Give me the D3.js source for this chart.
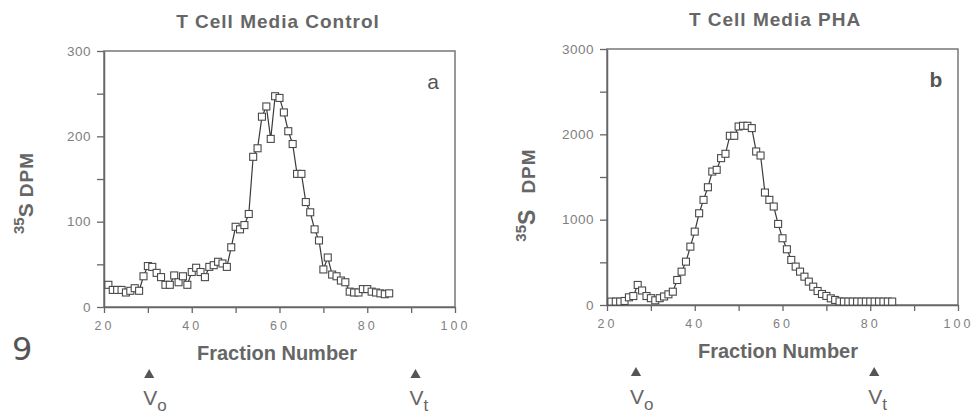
<!DOCTYPE html>
<html>
<head>
<meta charset="utf-8">
<script src="https://cdn.jsdelivr.net/npm/d3@7"></script>
<style>
body { margin: 0; background: #fff; }
svg { display: block; font-family: "Liberation Sans", Arial, sans-serif; }
</style>
</head>
<body>
<div class="canvas"></div>
<script>
// fraction numbers collected off the column
var fractions = [21, 22, 23, 24, 25, 26, 27, 28, 29, 30,
    31, 32, 33, 34, 35, 36, 37, 38, 39, 40,
    41, 42, 43, 44, 45, 46, 47, 48, 49, 50,
    51, 52, 53, 54, 55, 56, 57, 58, 59, 60,
    61, 62, 63, 64, 65, 66, 67, 68, 69, 70,
    71, 72, 73, 74, 75, 76, 77, 78, 79, 80,
    81, 82, 83, 84, 85];

// 35S DPM, panel a (control)
var controlDpm = [26, 20, 20, 20, 17, 19, 22, 19, 36, 48,
    47, 40, 35, 26, 26, 37, 29, 36, 26, 41,
    46, 41, 35, 47, 49, 53, 51, 47, 70, 94,
    91, 96, 109, 176, 186, 223, 235, 197, 247, 245,
    228, 206, 191, 156, 156, 123, 111, 91, 78, 44,
    58, 38, 36, 31, 29, 18, 17, 17, 21, 21,
    18, 17, 16, 15, 16];

// 35S DPM, panel b (PHA)
var phaDpm = [40, 40, 40, 47, 90, 105, 235, 170, 105, 80,
    55, 80, 100, 125, 156, 293, 391, 508, 684, 860,
    1075, 1232, 1380, 1564, 1584, 1721, 1772, 1983, 1983, 2092,
    2100, 2100, 2073, 1799, 1752, 1318, 1232, 1154, 950, 782,
    653, 528, 450, 391, 332, 274, 215, 164, 129, 106,
    78, 59, 42, 40, 40, 40, 40, 40, 40, 40,
    40, 40, 40, 40, 40];

var fractionTicks = [20, 30, 40, 50, 60, 70, 80, 90, 100];
var controlTicks = [0, 50, 100, 150, 200, 250, 300];
var phaTicks = [0, 500, 1000, 1500, 2000, 2500, 3000];

// void / total volume markers
var controlMarkers = [{ sub: 'o', f: 30.3 }, { sub: 't', f: 91 }];
var phaMarkers = [{ sub: 'o', f: 26.6 }, { sub: 't', f: 80.9 }];

var svg = d3.select('.canvas').append('svg')
    .attr('width', 973)
    .attr('height', 414);

var textGray = '#666',
    tickGray = '#808080';

function drawPanel(p) {
    var x = d3.scaleLinear().domain([20, 100]).range([p.left, p.right]),
        y = d3.scaleLinear().domain([0, p.yMax]).range([p.bottom, p.top]);

    var g = svg.append('g');

    // frame
    g.append('rect')
        .attr('x', p.left).attr('y', p.top)
        .attr('width', p.right - p.left).attr('height', p.bottom - p.top)
        .attr('fill', 'none').attr('stroke', '#777').attr('stroke-width', 1.5);

    var xAxis = g.append('g')
        .attr('transform', 'translate(0,' + p.bottom + ')')
        .call(d3.axisBottom(x)
            .tickValues(fractionTicks)
            .tickSize(6)
            .tickSizeOuter(0)
            .tickPadding(8)
            .tickFormat(function (d) { return d % 20 === 0 ? d : ''; }));

    var yAxis = g.append('g')
        .attr('transform', 'translate(' + p.left + ',0)')
        .call(d3.axisLeft(y)
            .tickValues(p.yTicks)
            .tickSize(7)
            .tickSizeOuter(0)
            .tickPadding(6)
            .tickFormat(function (d) { return d % p.labelEvery === 0 ? d : ''; }));

    [xAxis, yAxis].forEach(function (a) {
        a.select('.domain').attr('stroke', '#666').attr('stroke-width', 1.5);
        a.selectAll('.tick line').attr('stroke', '#666').attr('stroke-width', 1.3);
        a.selectAll('.tick text')
            .attr('fill', tickGray)
            .style('font-family', '"Liberation Sans", Arial, sans-serif');
    });
    xAxis.selectAll('.tick text').attr('font-size', 12.5).style('letter-spacing', '3px');
    yAxis.selectAll('.tick text').attr('font-size', 13.5).style('letter-spacing', '0.5px');

    // data line and hollow squares
    var pts = fractions.map(function (f, i) { return [f, p.values[i]]; });

    g.append('path')
        .datum(pts)
        .attr('fill', 'none')
        .attr('stroke', '#3a3a3a')
        .attr('stroke-width', 1.2)
        .attr('d', d3.line()
            .x(function (d) { return x(d[0]); })
            .y(function (d) { return y(d[1]); }));

    g.selectAll('rect.pt')
        .data(pts)
        .enter()
        .append('rect')
        .attr('class', 'pt')
        .attr('x', function (d) { return x(d[0]) - 3.5; })
        .attr('y', function (d) { return y(d[1]) - 3.5; })
        .attr('width', 7)
        .attr('height', 7)
        .attr('fill', '#fff')
        .attr('stroke', '#4a4a4a')
        .attr('stroke-width', 1.1);

    // titles
    g.append('text')
        .attr('x', p.titleX).attr('y', p.titleY)
        .attr('text-anchor', 'middle')
        .attr('fill', textGray)
        .attr('font-size', 19).attr('font-weight', 'bold')
        .style('letter-spacing', '1px')
        .text(p.title);

    g.append('text')
        .attr('x', p.xTitleX).attr('y', p.xTitleY)
        .attr('text-anchor', 'middle')
        .attr('fill', textGray)
        .attr('font-size', 20).attr('font-weight', 'bold')
        .text('Fraction Number');

    g.append('text')
        .attr('x', p.right - 22).attr('y', p.top + 38)
        .attr('text-anchor', 'middle')
        .attr('fill', '#555')
        .attr('font-size', 21).attr('font-weight', p.letterWeight)
        .text(p.letter);

    // y title, rotated
    var yt = g.append('text')
        .attr('transform', 'translate(' + p.yTitleX + ',' + p.yTitleY + ') rotate(-90)')
        .attr('text-anchor', 'middle')
        .attr('fill', textGray)
        .attr('font-weight', 'bold');
    yt.append('tspan').attr('font-size', 15).attr('dy', -9).text('35');
    yt.append('tspan').attr('font-size', p.sSize).attr('dy', 9).text('S');
    yt.append('tspan').attr('font-size', 19).attr('dx', p.dpmGap)
        .style('letter-spacing', '1px').text('DPM');

    // V markers under the axis
    var mk = g.selectAll('g.vm')
        .data(p.markers)
        .enter()
        .append('g')
        .attr('class', 'vm')
        .attr('transform', function (d) { return 'translate(' + x(d.f) + ',0)'; });

    mk.append('path')
        .attr('d', d3.symbol().type(d3.symbolTriangle).size(45))
        .attr('transform', 'translate(0,' + p.triY + ')')
        .attr('fill', '#555');

    var vt = mk.append('text')
        .attr('x', -6).attr('y', p.vY)
        .attr('fill', textGray)
        .attr('font-size', 21);
    vt.append('tspan').text('V');
    vt.append('tspan').attr('font-size', 17).attr('dy', 6)
        .text(function (d) { return d.sub; });
}

drawPanel({
    left: 104, right: 455, top: 51, bottom: 307,
    yMax: 300, yTicks: controlTicks, labelEvery: 100,
    values: controlDpm,
    title: 'T Cell Media Control', titleX: 278, titleY: 28,
    xTitleX: 277, xTitleY: 360,
    letter: 'a', letterWeight: 'normal',
    yTitleX: 33, yTitleY: 193, sSize: 21, dpmGap: 6,
    markers: controlMarkers, triY: 375, vY: 405
});

drawPanel({
    left: 607, right: 958, top: 49, bottom: 305,
    yMax: 3000, yTicks: phaTicks, labelEvery: 1000,
    values: phaDpm,
    title: 'T Cell Media PHA', titleX: 775, titleY: 26,
    xTitleX: 778, xTitleY: 358,
    letter: 'b', letterWeight: 'bold',
    yTitleX: 535, yTitleY: 195, sSize: 23, dpmGap: 16,
    markers: phaMarkers, triY: 373, vY: 404
});

// panel number from the original figure
svg.append('text')
    .attr('x', 12).attr('y', 360)
    .attr('fill', '#555')
    .attr('font-size', 32)
    .style('font-family', '"DejaVu Sans", sans-serif')
    .text('9');
</script>
</body>
</html>
